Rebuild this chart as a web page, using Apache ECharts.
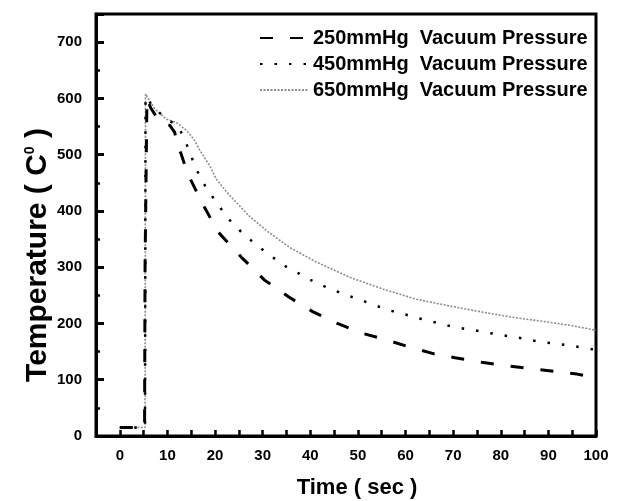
<!DOCTYPE html>
<html><head><meta charset="utf-8">
<script src="https://cdn.jsdelivr.net/npm/echarts@6/dist/echarts.min.js"></script>
<style>html,body{margin:0;padding:0;background:#fff}#c{width:623px;height:501px}</style>
</head><body><div id="c"></div>
<script>
// ---- data ----
const seriesNames = ['250mmHg  Vacuum Pressure', '450mmHg  Vacuum Pressure', '650mmHg  Vacuum Pressure'];
const time250 = [0, 5.2, 5.3, 5.7, 6.5, 8.4, 10.5, 11.5, 12.3, 13, 14.3, 15.5, 17.3, 20.6, 25.5, 30.4, 35.5, 40.5, 45.7, 50.7, 56, 60.8, 66, 70.4, 76, 82, 87, 92.4, 96, 100];
const temp250 = [15, 15, 300, 600, 583, 558, 552, 540, 515, 498, 465, 445, 414, 363, 318, 277, 247, 221, 200, 183, 171, 158, 146, 139, 131, 124, 119, 114, 110, 104];
const time450 = [0, 5.3, 5.4, 7, 9.8, 11.9, 13.3, 14.7, 16, 17.9, 20.2, 22.8, 25.8, 28.9, 31.9, 34.9, 38, 41, 44.1, 47.1, 50.1, 53.1, 56.2, 59.2, 62.3, 65.3, 68.4, 71.4, 74.4, 77.6, 80.5, 83.5, 86.5, 89.6, 92.6, 95.8, 98.7, 100];
const temp450 = [15, 15, 603, 585, 563, 553, 534, 504, 475, 445, 416, 386, 360, 338, 319, 301, 287, 273, 262, 252, 243, 234, 224, 218, 210, 204, 197, 192, 188, 183, 179, 175, 170, 166, 163, 159, 155, 153];
const time650 = [0, 5.3, 5.4, 7.3, 9.8, 11.9, 14, 15.5, 16.8, 18.9, 20.3, 23, 27.3, 30.8, 35.7, 41.3, 48.3, 55.3, 62.3, 69.3, 76.3, 83.3, 90.3, 95, 100];
const temp650 = [15, 15, 608, 582, 563, 557, 543, 528, 508, 480, 456, 428, 390, 365, 335, 309, 282, 261, 243, 231, 220, 210, 202, 196, 188];
const xMajor = [0, 10, 20, 30, 40, 50, 60, 70, 80, 90, 100];
const yMajor = [0, 100, 200, 300, 400, 500, 600, 700];

const SANS = "'Liberation Sans',Arial,sans-serif";
const zip = (t, v) => t.map((x, i) => [x, v[i]]);

const chart = echarts.init(document.getElementById('c'), null, {renderer: 'canvas'});
const tickLabel = {color: '#000', fontFamily: SANS, fontWeight: 'bold', fontSize: 15};
const option = {
  animation: false,
  backgroundColor: '#fff',
  grid: {left: 96, right: 27, top: 14, bottom: 65, show: true, borderColor: '#000', borderWidth: 3},
  xAxis: {type: 'value', min: -5, max: 100, interval: 5,
    axisLine: {show: true, onZero: false, lineStyle: {color: '#000', width: 3}}, splitLine: {show: false},
    axisTick: {show: true, inside: true, length: 6, lineStyle: {color: '#000', width: 2.5}},
    axisLabel: Object.assign({customValues: xMajor, margin: 12}, tickLabel)},
  yAxis: {type: 'value', min: 0, max: 750, interval: 100,
    axisLine: {show: true, onZero: false, lineStyle: {color: '#000', width: 3}}, splitLine: {show: false},
    axisTick: {show: true, inside: true, length: 8, lineStyle: {color: '#000', width: 3}},
    minorTick: {show: true, splitNumber: 2, length: 4, lineStyle: {color: '#000', width: 2.5}},
    minorSplitLine: {show: false},
    axisLabel: Object.assign({customValues: yMajor, margin: 14}, tickLabel)},
  legend: {
    data: seriesNames, orient: 'vertical', left: 254, top: 23, itemWidth: 48, itemHeight: 12, itemGap: 6,
    itemStyle: {opacity: 0},
    textStyle: {color: '#000', fontFamily: SANS, fontWeight: 'bold', fontSize: 20, lineHeight: 20}
  },
  series: [
    {name: seriesNames[2], type: 'line', data: zip(time650, temp650), symbol: 'none', z: 2,
     lineStyle: {color: '#8c8c8c', width: 1.6, type: [2, 1.5]}, itemStyle: {color: '#8c8c8c'}},
    {name: seriesNames[1], type: 'line', data: zip(time450, temp450), symbol: 'none', z: 3,
     lineStyle: {color: '#000', width: 2.5, type: [2.5, 12]}, itemStyle: {color: '#000'}},
    {name: seriesNames[0], type: 'line', data: zip(time250, temp250), symbol: 'none', z: 4,
     lineStyle: {color: '#000', width: 3, type: [13, 17]}, itemStyle: {color: '#000'}}
  ],
  graphic: [
    {type: 'text', x: 357, y: 488, style: {text: 'Time ( sec )', font: 'bold 22px ' + SANS, fill: '#000', align: 'center', verticalAlign: 'middle'}},
    {type: 'text', x: 38, y: 255, rotation: Math.PI / 2,
     style: {text: '{n|Temperature ( C}{s|0}{n| )}', fill: '#000', align: 'center', verticalAlign: 'middle',
       rich: {n: {font: 'bold 30px ' + SANS, fill: '#000'}, s: {font: 'bold 14px ' + SANS, fill: '#000', verticalAlign: 'top'}}}}
  ]
};
chart.setOption(option);
</script></body></html>
